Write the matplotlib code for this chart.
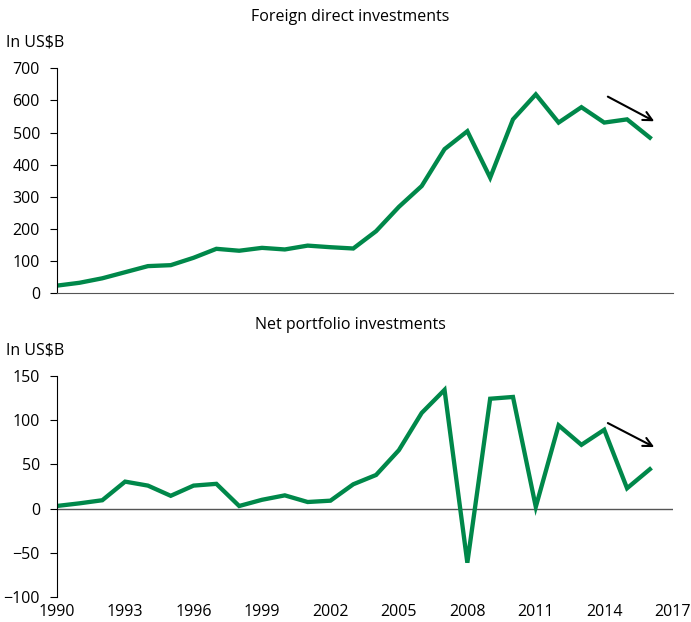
import numpy as np
import matplotlib
matplotlib.use("Agg")
import matplotlib.pyplot as plt

plt.rcParams['font.family'] = ['Open Sans', 'DejaVu Sans']

years = list(range(1990, 2017))
fdi = [22, 31, 45, 64, 83, 86, 109, 137, 131, 140, 135, 147, 142, 138,
       192, 268, 333, 448, 504, 359, 541, 619, 531, 579, 531, 541, 484]
portfolio = [3, 6, 9.5, 30.5, 26, 14.5, 26, 28, 3, 10, 15, 7.5, 9, 27.5,
             38, 66, 108, 134, -61, 124, 126, 2, 94, 72, 89, 23, 44.5]
xticks = [1990, 1993, 1996, 1999, 2002, 2005, 2008, 2011, 2014, 2017]

green = '#00884A'
fs = 11.5

fig = plt.figure(figsize=(6.91, 6.22), dpi=100)
ax1 = fig.add_axes([0.082, 0.5294, 0.8915, 0.3606])
ax2 = fig.add_axes([0.082, 0.0397, 0.8915, 0.3563])

# top panel
ax1.plot(years, fdi, color=green, lw=3.1, solid_joinstyle='miter')
ax1.set_xlim(1990, 2017)
ax1.set_ylim(0, 700)
ax1.set_yticks(range(0, 701, 100))
ax1.set_xticks([])
ax1.spines[['top', 'right']].set_visible(False)
ax1.spines['bottom'].set_color('#555555')
ax1.spines['left'].set_color('black')
ax1.tick_params(axis='y', length=5, width=0.8, labelsize=fs, pad=7)
ax1.annotate('', xy=(2016.3, 531), xytext=(2014.05, 616),
             arrowprops=dict(arrowstyle='->', color='black', lw=1.5,
                             mutation_scale=16))

# bottom panel
ax2.plot(years, portfolio, color=green, lw=3.1, solid_joinstyle='miter')
ax2.axhline(0, color='#555555', lw=1, zorder=1)
ax2.set_xlim(1990, 2017)
ax2.set_ylim(-100, 150)
ax2.set_yticks(range(-100, 151, 50))
ax2.set_xticks(xticks)
ax2.spines[['top', 'right', 'bottom']].set_visible(False)
ax2.spines['left'].set_color('black')
ax2.tick_params(axis='y', length=5, width=0.8, labelsize=fs, pad=7)
ax2.tick_params(axis='x', length=0, labelsize=fs, pad=5)
ax2.annotate('', xy=(2016.3, 68), xytext=(2014.05, 98),
             arrowprops=dict(arrowstyle='->', color='black', lw=1.5,
                             mutation_scale=16))

fig.text(0.5065, 0.973, 'Foreign direct investments', ha='center', va='center', fontsize=fs)
fig.text(0.009, 0.932, 'In US$B', ha='left', va='center', fontsize=fs)
fig.text(0.5065, 0.4775, 'Net portfolio investments', ha='center', va='center', fontsize=fs)
fig.text(0.009, 0.437, 'In US$B', ha='left', va='center', fontsize=fs)

fig.savefig('out.png', dpi=100)
